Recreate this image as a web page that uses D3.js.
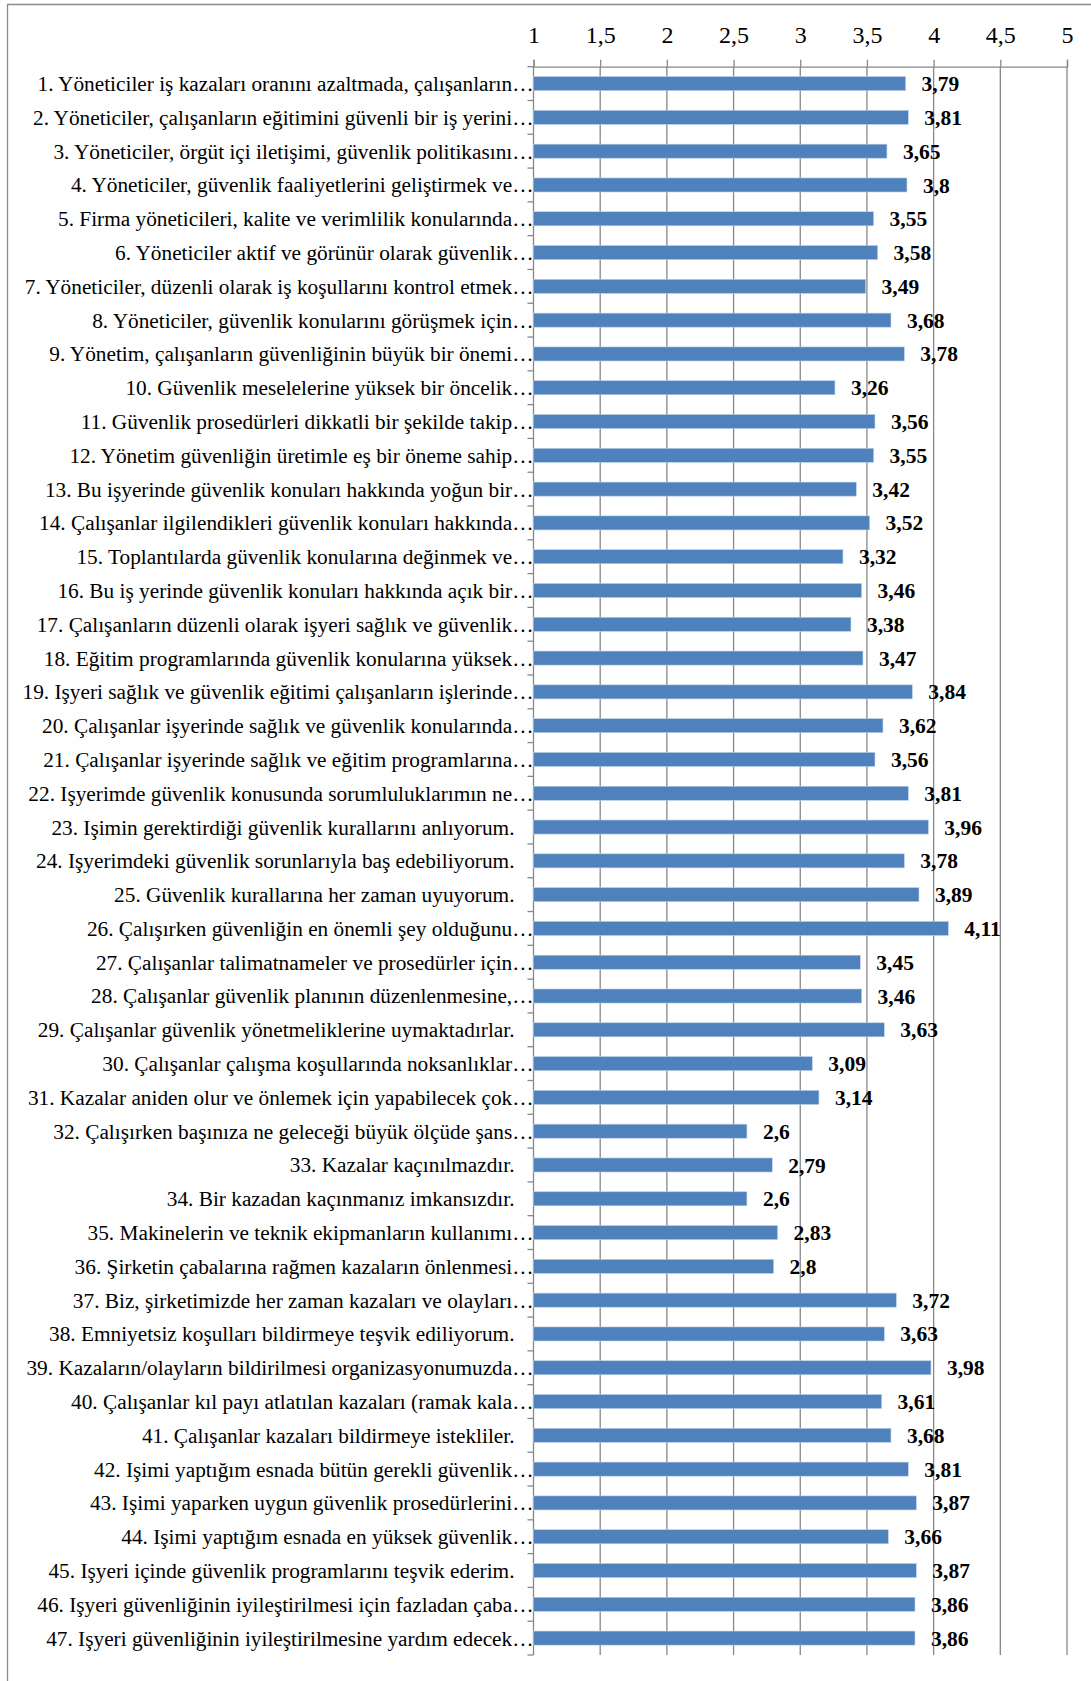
<!DOCTYPE html>
<html><head><meta charset="utf-8">
<script src="https://cdn.jsdelivr.net/npm/d3@7"></script>
<style>html,body{margin:0;padding:0;background:#fff;} svg{display:block;} svg text{font-family:"Liberation Serif","DejaVu Serif",serif;}</style>
</head><body>
<script>
const categories = [
"1. Yöneticiler iş kazaları oranını azaltmada, çalışanların…",
"2. Yöneticiler, çalışanların eğitimini güvenli bir iş yerini…",
"3. Yöneticiler, örgüt içi iletişimi, güvenlik politikasını…",
"4. Yöneticiler, güvenlik faaliyetlerini geliştirmek ve…",
"5. Firma yöneticileri, kalite ve verimlilik konularında…",
"6. Yöneticiler aktif ve görünür olarak güvenlik…",
"7. Yöneticiler, düzenli olarak iş koşullarını kontrol etmek…",
"8. Yöneticiler, güvenlik konularını görüşmek için…",
"9. Yönetim, çalışanların güvenliğinin büyük bir önemi…",
"10. Güvenlik meselelerine yüksek bir öncelik…",
"11. Güvenlik prosedürleri dikkatli bir şekilde takip…",
"12. Yönetim güvenliğin üretimle eş bir öneme sahip…",
"13. Bu işyerinde güvenlik konuları hakkında yoğun bir…",
"14. Çalışanlar ilgilendikleri güvenlik konuları hakkında…",
"15. Toplantılarda güvenlik konularına değinmek ve…",
"16. Bu iş yerinde güvenlik konuları hakkında açık bir…",
"17. Çalışanların düzenli olarak işyeri sağlık ve güvenlik…",
"18. Eğitim programlarında güvenlik konularına yüksek…",
"19. Işyeri sağlık ve güvenlik eğitimi çalışanların işlerinde…",
"20. Çalışanlar işyerinde sağlık ve güvenlik konularında…",
"21. Çalışanlar işyerinde sağlık ve eğitim programlarına…",
"22. Işyerimde güvenlik konusunda sorumluluklarımın ne…",
"23. Işimin gerektirdiği güvenlik kurallarını anlıyorum.",
"24. Işyerimdeki güvenlik sorunlarıyla baş edebiliyorum.",
"25. Güvenlik kurallarına her zaman uyuyorum.",
"26. Çalışırken güvenliğin en önemli şey olduğunu…",
"27. Çalışanlar talimatnameler ve prosedürler için…",
"28. Çalışanlar güvenlik planının düzenlenmesine,…",
"29. Çalışanlar güvenlik yönetmeliklerine uymaktadırlar.",
"30. Çalışanlar çalışma koşullarında noksanlıklar…",
"31. Kazalar aniden olur ve önlemek için yapabilecek çok…",
"32. Çalışırken başınıza ne geleceği büyük ölçüde şans…",
"33. Kazalar kaçınılmazdır.",
"34. Bir kazadan kaçınmanız imkansızdır.",
"35. Makinelerin ve teknik ekipmanların kullanımı…",
"36. Şirketin çabalarına rağmen kazaların önlenmesi…",
"37. Biz, şirketimizde her zaman kazaları ve olayları…",
"38. Emniyetsiz koşulları bildirmeye teşvik ediliyorum.",
"39. Kazaların/olayların bildirilmesi organizasyonumuzda…",
"40. Çalışanlar kıl payı atlatılan kazaları (ramak kala…",
"41. Çalışanlar kazaları bildirmeye istekliler.",
"42. Işimi yaptığım esnada bütün gerekli güvenlik…",
"43. Işimi yaparken uygun güvenlik prosedürlerini…",
"44. Işimi yaptığım esnada en yüksek güvenlik…",
"45. Işyeri içinde güvenlik programlarını teşvik ederim.",
"46. Işyeri güvenliğinin iyileştirilmesi için fazladan çaba…",
"47. Işyeri güvenliğinin iyileştirilmesine yardım edecek…"
];
const values = [3.79,3.81,3.65,3.8,3.55,3.58,3.49,3.68,3.78,3.26,3.56,3.55,3.42,3.52,3.32,3.46,3.38,3.47,3.84,3.62,3.56,3.81,3.96,3.78,3.89,4.11,3.45,3.46,3.63,3.09,3.14,2.6,2.79,2.6,2.83,2.8,3.72,3.63,3.98,3.61,3.68,3.81,3.87,3.66,3.87,3.86,3.86];
const tickValues = [1,1.5,2,2.5,3,3.5,4,4.5,5];
const tickLabels = ["1","1,5","2","2,5","3","3,5","4","4,5","5"];

(function(){
const W = 1091, H = 1681;
const pLeft = 533.5, pRight = 1067, pTop = 66.7, pBottom = 1655;

const svg = d3.select("body").append("svg").attr("width", W).attr("height", H);

// outer frame (top and left edges visible)
svg.append("line").attr("x1",7).attr("x2",W).attr("y1",4.5).attr("y2",4.5).attr("stroke","#8c8c8c").attr("stroke-width",1.3);
svg.append("line").attr("x1",7.5).attr("x2",7.5).attr("y1",4).attr("y2",H).attr("stroke","#8c8c8c").attr("stroke-width",1.3);

const x = d3.scaleLinear().domain([1,5]).range([pLeft,pRight]);
const y = d3.scaleBand().domain(categories).range([pTop,pBottom]).paddingInner(0.585).paddingOuter(0.2925);
const band = d3.scaleBand().domain(categories).range([pTop,pBottom]);

// gridlines
svg.append("g").selectAll("line").data(tickValues.slice(1)).join("line")
  .attr("x1",d=>x(d)).attr("x2",d=>x(d)).attr("y1",pTop).attr("y2",pBottom)
  .attr("stroke","#878787").attr("stroke-width",1.3);

// top axis
const xAxis = d3.axisTop(x).tickValues(tickValues).tickSize(7).tickPadding(17)
  .tickFormat((d,i)=>tickLabels[i]);
const gx = svg.append("g").attr("transform",`translate(0,${pTop})`).call(xAxis);
gx.attr("font-family",null);
gx.select(".domain").attr("stroke","#878787").attr("stroke-width",1.3);
gx.selectAll(".tick line").attr("stroke","#878787").attr("stroke-width",1.3);
gx.selectAll(".tick text").attr("font-size",24).attr("fill","#000");

// left axis line with ticks at band boundaries
svg.append("line").attr("x1",pLeft).attr("x2",pLeft).attr("y1",pTop).attr("y2",pBottom).attr("stroke","#878787").attr("stroke-width",1.3);
const boundaries = categories.map(c=>band(c)).concat([pBottom]);
svg.append("g").selectAll("line").data(boundaries).join("line")
  .attr("x1",pLeft-6).attr("x2",pLeft).attr("y1",d=>d).attr("y2",d=>d)
  .attr("stroke","#878787").attr("stroke-width",1.3);

// bars
svg.append("g").selectAll("rect").data(values).join("rect")
  .attr("x",x(1)).attr("y",(d,i)=>y(categories[i]))
  .attr("width",d=>x(d)-x(1)).attr("height",y.bandwidth())
  .attr("fill","#4f81bd").attr("stroke","#b9cde5").attr("stroke-width",0.6);

// category labels
svg.append("g").selectAll("text").data(categories).join("text")
  .attr("x",d=> d.endsWith("…") ? pLeft : pLeft-19)
  .attr("y",d=>band(d)+band.bandwidth()/2)
  .attr("dy","0.35em").attr("text-anchor","end")
  .attr("font-size",21.3).attr("fill","#000")
  .text(d=>d);

// value labels
svg.append("g").selectAll("text").data(values).join("text")
  .attr("x",d=>x(d)+16)
  .attr("y",(d,i)=>band(categories[i])+band.bandwidth()/2)
  .attr("dy","0.35em").attr("font-size",21.5).attr("font-weight","bold").attr("fill","#000")
  .text(d=>String(d).replace(".",","));
})();
</script>
</body></html>
